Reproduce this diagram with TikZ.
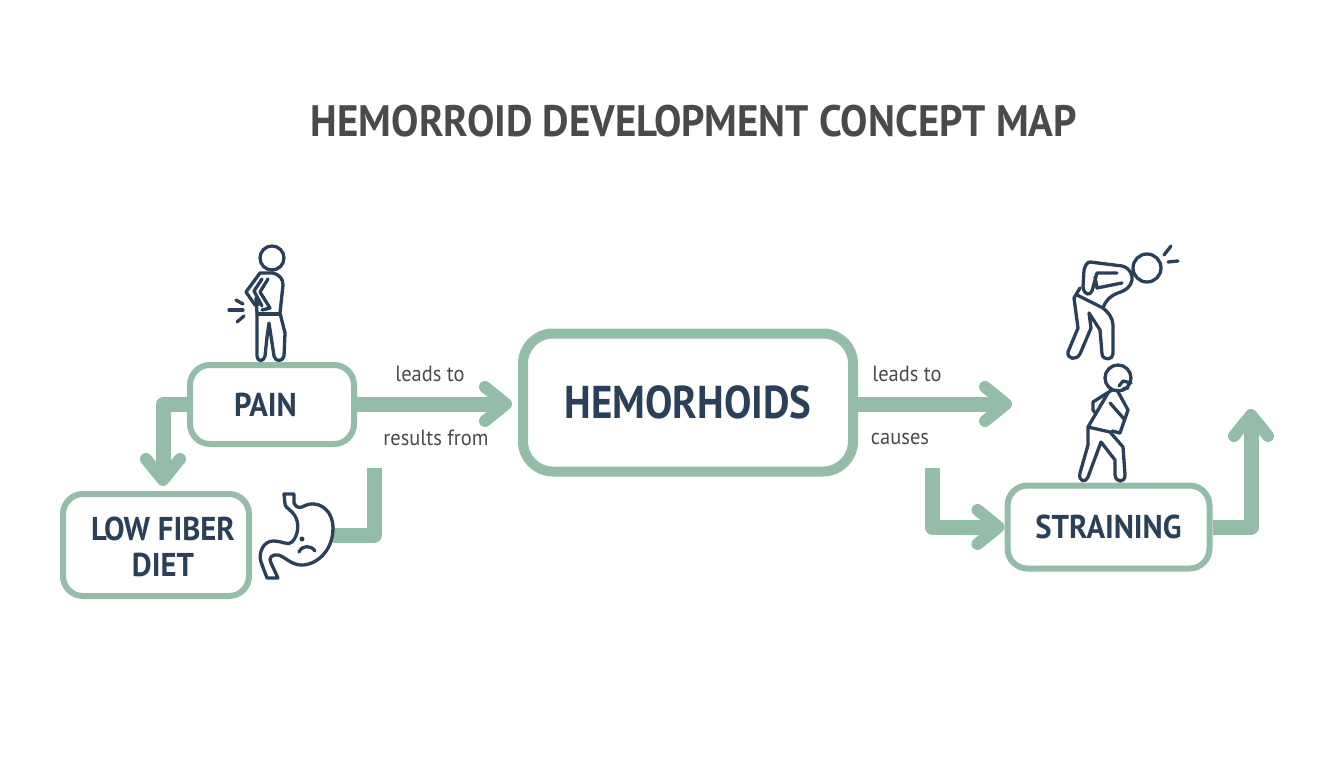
\documentclass[tikz,border=0pt]{standalone}
\usepackage{fontspec}
\setmainfont[FakeStretch=0.93]{PT Sans}
\newfontfamily\hemfont[FakeStretch=0.89]{PT Sans}
\usetikzlibrary{arrows.meta}
\definecolor{sage}{HTML}{93BDA8}
\definecolor{navy}{HTML}{2A4058}
\definecolor{slate}{HTML}{4A4A4A}
\tikzset{
  conbox/.style={draw=sage,rounded corners=20pt,line width=6pt,fill=white,text=navy,align=center,
    inner sep=0pt,font=\fontsize{33}{36}\selectfont\bfseries},
  flow/.style={draw=sage,line width=15pt,line join=round},
  flowtip/.style={flow,-{Straight Barb[length=21pt,width=34pt,line width=12pt,round]}},
  lab/.style={text=slate,font=\fontsize{22}{26}\selectfont},
  icon/.style={draw=navy,line width=3.3pt,line join=round,line cap=round}
}
\begin{document}
\begin{tikzpicture}[x=1pt,y=-1pt]
      \useasboundingbox (0,0) rectangle (1344,768);
      \node[text=slate,font=\fontsize{44}{50}\selectfont\bfseries] (title) at (694,121) {HEMORROID DEVELOPMENT CONCEPT MAP};

      \node[conbox,minimum width=164pt,minimum height=79pt] (pain) at (272,404.5) {PAIN\hspace*{13pt}};
      \node[conbox,minimum width=186pt,minimum height=102pt] (fiber) at (156,545) {\rule{0pt}{28pt}\hspace*{14pt}LOW FIBER\\\hspace*{14pt}DIET};
      \node[conbox,minimum width=330pt,minimum height=138pt,rounded corners=30pt,line width=10pt,
        font=\fontsize{46}{52}\selectfont\hemfont\bfseries] (hem) at (688,402.5) {HEMORHOIDS};
      \node[conbox,minimum width=202pt,minimum height=83pt] (strain) at (1108.5,527) {STRAINING};

      \coordinate (hemin) at (512,404);
      \coordinate (fiberin) at (163,486);
      \coordinate (hemout) at (1012,404);
      \coordinate (stomachout) at (333,535);
      \coordinate (causestart) at (932,468);
      \coordinate (resultend) at (374,468);
      \coordinate (strainout) at (1251,409);

      \draw[flowtip] (pain.east |- hemin) -- (hemin);
      \draw[flowtip] (hem.east |- hemout) -- (hemout);
      \draw[flowtip] (pain.west) -| (fiberin);
      \draw[flow] (stomachout) -| (resultend);
      \draw[flowtip] (causestart) |- (strain.west);
      \draw[flowtip] (strain.east) -| (strainout);

      \node[lab] (l1) at (430,374) {leads to};
      \node[lab] (l2) at (436,438) {results from};
      \node[lab] (l3) at (907,374) {leads to};
      \node[lab] (l4) at (900,438.5) {causes};

      % pain figure
      \draw[icon] (272,258) circle (12);
      \draw[icon] (273,273) .. controls (280,275) and (283,279) .. (283,285) -- (280,313) -- (285,333) -- (284,356)
        .. controls (283,362) and (275,362) .. (274,356) -- (269,323) -- (267,337) -- (265,356)
        .. controls (264,362) and (257,362) .. (257,356) -- (257,313) -- (256,298);
      \draw[icon] (273,273) -- (260,273) -- (246,292) -- (255,305) -- (259,304);
      \draw[icon] (268,279) -- (260,292) -- (270,308) -- (262,310);
      \draw[icon] (262,279) -- (254,291) -- (262,306);
      \draw[icon] (257,314) -- (280,314);
      \draw[icon] (229,310) -- (243,310);
      \draw[icon] (236,300) -- (243,304);
      \draw[icon] (237,322) -- (244,316);

      % stomach
      \draw[icon] (284,494) -- (294,494) -- (294,503) .. controls (296,507) and (298,508) .. (302,507)
        .. controls (318,498) and (333,510) .. (333,528) .. controls (333,552) and (315,566) .. (300,565)
        .. controls (290,564) and (284,556) .. (278,555) .. controls (272,554) and (268,558) .. (271,563)
        -- (278,578) -- (267,578) -- (261,562) .. controls (258,552) and (264,541) .. (273,541)
        .. controls (283,541) and (288,546) .. (292,542) .. controls (299,535) and (299,522) .. (295,516)
        .. controls (292,510) and (285,508) .. (285,504) -- cycle;
      \fill[navy] (302,539) circle (2.5);
      \draw[icon] (299,552) .. controls (302,545) and (311,545) .. (315,551);

      % bent figure
      \draw[icon] (1147,268) circle (14);
      \draw[icon] (1164,255) -- (1171,246);
      \draw[icon] (1168,262) -- (1178,261);
      \draw[icon] (1090,262) -- (1122,266) .. controls (1130,268) and (1133,275) .. (1132,280)
        .. controls (1130,288) and (1126,290) .. (1118,293) .. controls (1110,296) and (1106,300) .. (1103,308)
        -- (1077,295);
      \draw[icon] (1103,308) .. controls (1108,312) and (1113,318) .. (1113,325) -- (1113,354)
        .. controls (1113,360) and (1103,361) .. (1102,354) -- (1100,330) -- (1089,313) -- (1091,328) -- (1080,354)
        .. controls (1076,361) and (1067,359) .. (1068,352) -- (1078,328) -- (1074,298) -- (1080,288);
      \draw[icon] (1090,262) .. controls (1087,262) and (1085,266) .. (1084,270) -- (1083,287)
        .. controls (1084,295) and (1090,296) .. (1092,291) -- (1097,273) -- (1117,273);
      \draw[icon] (1095,277) -- (1097,288) -- (1122,283);

      % walking figure
      \draw[icon] (1118,378) circle (13);
      \draw[icon] (1119,386) -- (1123,381) -- (1131,383);
      \draw[icon] (1123,389) -- (1128,388);
      \draw[icon] (1112,390) -- (1093,402) -- (1093,410) -- (1096,414);
      \draw[icon] (1108,393) -- (1088,427) -- (1088,445) -- (1080,473)
        .. controls (1078,482) and (1086,483) .. (1088,477) -- (1101,442) -- (1115,460) -- (1115,475)
        .. controls (1116,483) and (1125,483) .. (1125,475) -- (1123,447) -- (1110,432) -- (1088,427);
      \draw[icon] (1117,390) -- (1128,410) -- (1120,433) -- (1112,431);
      \draw[icon] (1110,403) -- (1125,420);
\end{tikzpicture}
\end{document}
